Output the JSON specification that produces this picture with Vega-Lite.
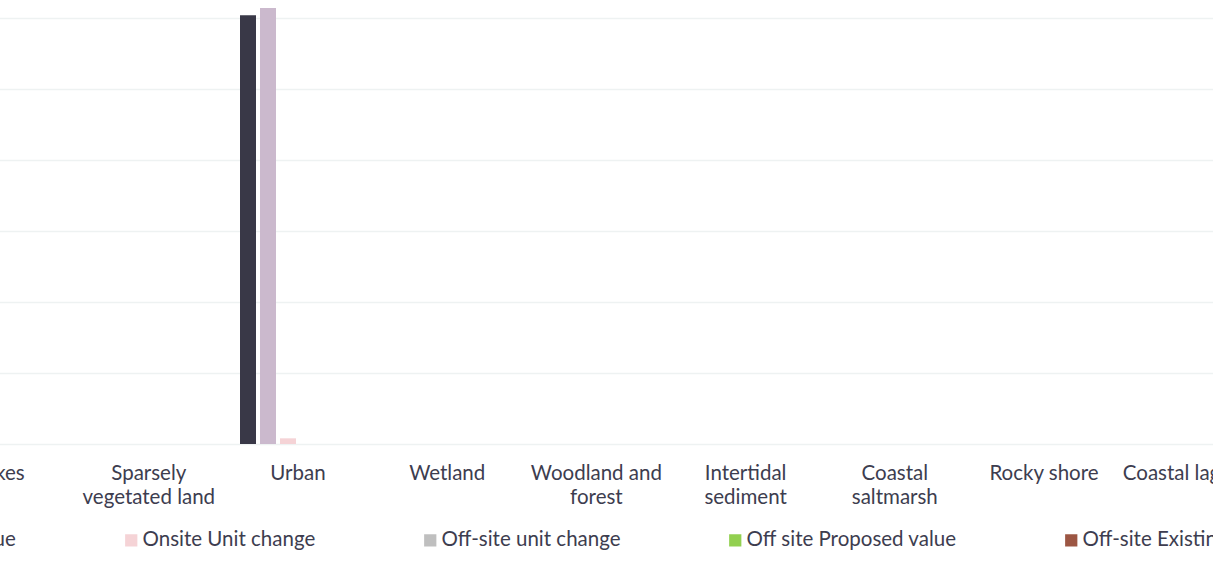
{
  "$schema": "https://vega.github.io/schema/vega-lite/v6.json",
  "autosize": {"type": "none"},
  "width": 1207,
  "height": 444,
  "padding": {"left": 6, "top": 0, "right": 0, "bottom": 118},
  "background": "white",
  "config": {
    "view": {"stroke": null},
    "font": "Lato",
    "axis": {"labelFont": "Lato"},
    "legend": {"labelFont": "Lato"}
  },
  "datasets": {
    "bars": [
      {"habitat": "Cropland", "series": "Onsite Existing value", "value": 0},
      {"habitat": "Grassland", "series": "Onsite Existing value", "value": 0},
      {"habitat": "Heathland and shrub", "series": "Onsite Existing value", "value": 0},
      {"habitat": "Lakes", "series": "Onsite Existing value", "value": 0},
      {"habitat": "Sparsely vegetated land", "series": "Onsite Existing value", "value": 0},
      {"habitat": "Urban", "series": "Onsite Existing value", "value": 60.4},
      {"habitat": "Urban", "series": "Onsite Proposed value", "value": 61.4},
      {"habitat": "Urban", "series": "Onsite Unit change", "value": 0.8},
      {"habitat": "Urban", "series": "Off-site unit change", "value": 0},
      {"habitat": "Urban", "series": "Off site Proposed value", "value": 0},
      {"habitat": "Urban", "series": "Off-site Existing value", "value": 0},
      {"habitat": "Wetland", "series": "Onsite Existing value", "value": 0},
      {"habitat": "Woodland and forest", "series": "Onsite Existing value", "value": 0},
      {"habitat": "Intertidal sediment", "series": "Onsite Existing value", "value": 0},
      {"habitat": "Coastal saltmarsh", "series": "Onsite Existing value", "value": 0},
      {"habitat": "Rocky shore", "series": "Onsite Existing value", "value": 0},
      {"habitat": "Coastal lagoons", "series": "Onsite Existing value", "value": 0}
    ]
  },
  "data": {"name": "bars"},
  "mark": {"type": "bar"},
  "encoding": {
    "x": {
      "field": "habitat",
      "type": "nominal",
      "sort": null,
      "scale": {
        "domain": ["Cropland", "Grassland", "Heathland and shrub", "Lakes", "Sparsely vegetated land", "Urban", "Wetland", "Woodland and forest", "Intertidal sediment", "Coastal saltmarsh", "Rocky shore", "Coastal lagoons"],
        "range": [-528.6, 1261.8],
        "paddingInner": 0,
        "paddingOuter": 0
      },
      "axis": {
        "title": null,
        "domain": false,
        "ticks": false,
        "labelAngle": 0,
        "labelFontSize": 20.5,
        "labelColor": "#3d3d4f",
        "labelPadding": 19,
        "labelLineHeight": 24,
        "labelBaseline": "top",
        "labelOverlap": false,
        "labelBound": false,
        "labelFlush": false,
        "labelExpr": "datum.value == 'Sparsely vegetated land' ? ['Sparsely', 'vegetated land'] : datum.value == 'Woodland and forest' ? ['Woodland and', 'forest'] : datum.value == 'Intertidal sediment' ? ['Intertidal', 'sediment'] : datum.value == 'Coastal saltmarsh' ? ['Coastal', 'saltmarsh'] : datum.value == 'Heathland and shrub' ? ['Heathland and', 'shrub'] : datum.value"
      }
    },
    "xOffset": {
      "field": "series",
      "type": "nominal",
      "sort": null,
      "scale": {
        "domain": ["Onsite Existing value", "Onsite Proposed value", "Onsite Unit change", "Off-site unit change", "Off site Proposed value", "Off-site Existing value"],
        "paddingInner": 0.2,
        "paddingOuter": 0.83
      }
    },
    "y": {
      "field": "value",
      "type": "quantitative",
      "scale": {"domain": [0, 62.535], "nice": false, "zero": true},
      "axis": {
        "title": null,
        "domain": false,
        "ticks": false,
        "labels": false,
        "grid": true,
        "gridColor": "#eef2f2",
        "gridWidth": 1.5,
        "values": [0, 10, 20, 30, 40, 50, 60]
      }
    },
    "color": {
      "field": "series",
      "type": "nominal",
      "sort": null,
      "scale": {
        "domain": ["Onsite Existing value", "Onsite Proposed value", "Onsite Unit change", "Off-site unit change", "Off site Proposed value", "Off-site Existing value"],
        "range": ["#393847", "#cbb9cd", "#f5d3d6", "#bfbfbf", "#92d050", "#9c5643"]
      },
      "legend": {
        "title": null,
        "orient": "none",
        "direction": "horizontal",
        "columns": 6,
        "legendX": -528,
        "legendY": 530,
        "columnPadding": 104,
        "symbolType": "square",
        "symbolSize": 150,
        "symbolStrokeWidth": 0,
        "labelFontSize": 20.5,
        "labelOffset": 1,
        "labelColor": "#3d3d4f",
        "labelLimit": 0
      }
    }
  }
}
